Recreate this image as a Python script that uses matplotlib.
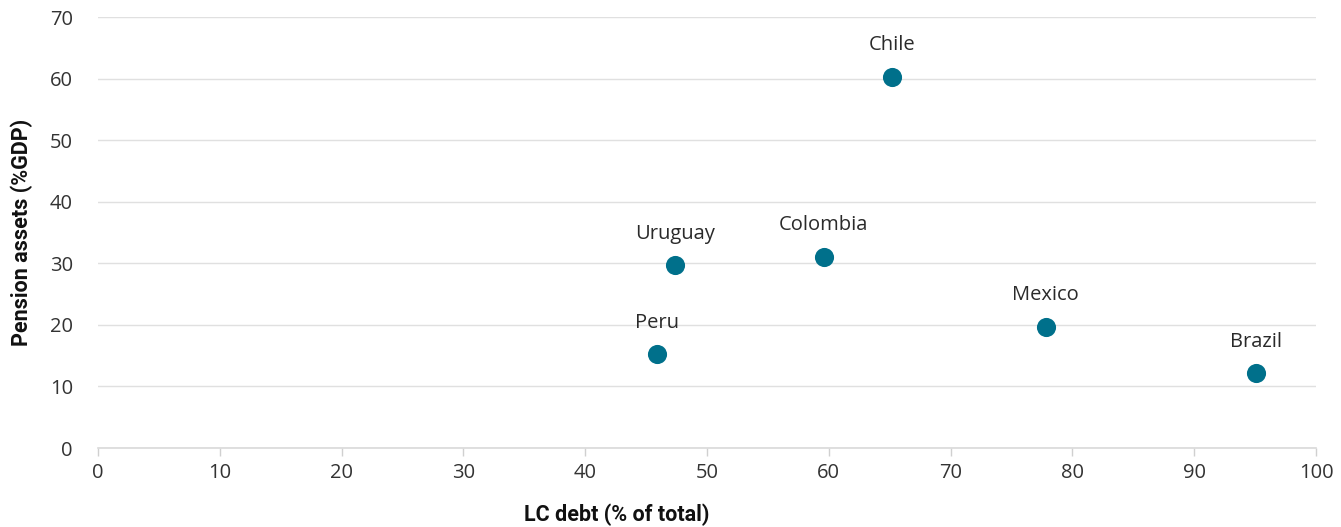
import matplotlib
matplotlib.use("Agg")
import matplotlib.pyplot as plt

countries = ["Chile", "Uruguay", "Colombia", "Peru", "Mexico", "Brazil"]
lc_debt = [65.2, 47.4, 59.6, 45.9, 77.8, 95.1]
pension_assets = [60.3, 29.7, 31.1, 15.2, 19.7, 12.1]
x_ticks = [0, 10, 20, 30, 40, 50, 60, 70, 80, 90, 100]
y_ticks = [0, 10, 20, 30, 40, 50, 60, 70]

plt.rcParams['font.family'] = ['Open Sans', 'DejaVu Sans']

fig = plt.figure(figsize=(13.41, 5.27), dpi=100)
ax = fig.add_axes([98/1341, 79/527, (1316-98)/1341, (448-17)/527])

ax.scatter(lc_debt, pension_assets, s=190, color='#00708B', zorder=3, linewidths=0)
for c, x, y in zip(countries, lc_debt, pension_assets):
    ax.annotate(c, (x, y), xytext=(0, 22.5), textcoords='offset points',
                ha='center', va='center', fontsize=14.5, color='#2a2a2a')

ax.set_xlim(0, 100)
ax.set_ylim(0, 70)
ax.set_xticks(x_ticks)
ax.set_yticks(y_ticks)
ax.grid(axis='y', color='#e0e0e0', linewidth=1.0)
ax.set_axisbelow(True)
for s in ['left', 'right', 'top']:
    ax.spines[s].set_visible(False)
ax.spines['bottom'].set_color('#d9d9d9')
ax.spines['bottom'].set_linewidth(1.2)
ax.tick_params(axis='x', colors='#d0d0d0', length=6, width=1, labelcolor='#333333',
               labelsize=14.5, pad=5)
ax.tick_params(axis='y', length=0, labelcolor='#333333', labelsize=14.5, pad=18)

ax.set_ylabel('Pension assets (%GDP)', fontsize=15.5, fontweight='bold', color='#111111',
              family=['Roboto', 'DejaVu Sans'], labelpad=12)
fig.text(617/1341, 1 - 515/527, 'LC debt (% of total)', ha='center', va='center',
         fontsize=15.5, fontweight='bold', color='#111111', family=['Roboto', 'DejaVu Sans'])

fig.savefig('out.png', dpi=100, facecolor='white')
